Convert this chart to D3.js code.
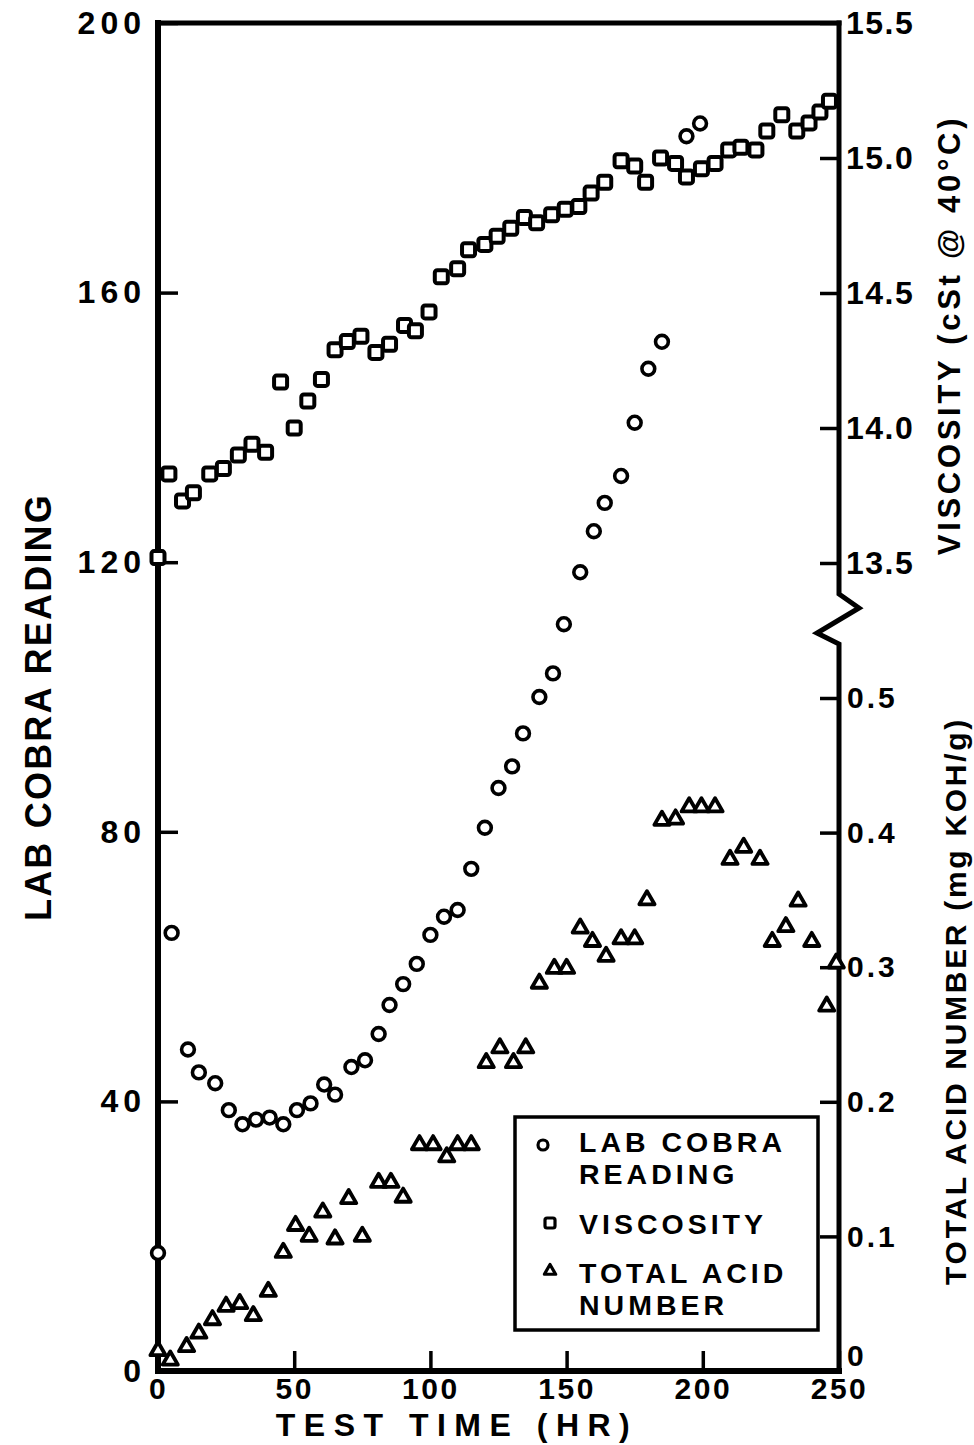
<!DOCTYPE html>
<html><head><meta charset="utf-8">
<script src="https://cdn.jsdelivr.net/npm/d3@7"></script>
<style>
body{margin:0;background:#fff}
svg{display:block}
text{font-family:"Liberation Sans",Arial,Helvetica,sans-serif;fill:#000;font-weight:bold}
</style>
</head><body>
<svg id="c" width="974" height="1445"></svg>
<script>
// ---- data ----
const cobraHours = [0, 5, 11, 15, 21, 26, 31, 36, 41, 46, 51, 56, 61, 65, 71, 76, 81, 85, 90, 95, 100, 105, 110, 115, 120, 125, 130, 134, 140, 145, 149, 155, 160, 164, 170, 175, 180, 185, 194, 199];
const cobraValues = [17.5, 65, 47.7, 44.3, 42.7, 38.7, 36.6, 37.3, 37.6, 36.6, 38.7, 39.7, 42.5, 41.0, 45.1, 46.1, 50.0, 54.3, 57.4, 60.4, 64.7, 67.4, 68.4, 74.5, 80.6, 86.5, 89.7, 94.6, 100, 103.5, 110.8, 118.5, 124.6, 128.8, 132.8, 140.7, 148.7, 152.7, 183.2, 185.1];

const viscHours = [0, 4, 9, 13, 19, 24, 29.5, 34.5, 39.5, 45, 50, 55, 60, 65, 69.5, 74.5, 80, 85, 90.5, 94.5, 99.5, 104, 110, 114, 120, 124.5, 129.5, 134.5, 139, 144.5, 149.5, 154.5, 159, 164, 170, 175, 179, 184.5, 190, 194, 199.5, 204.5, 209.5, 214, 219.5, 223.5, 229, 234.5, 239, 243, 246.5];
const viscValues = [13.52, 13.83, 13.73, 13.76, 13.83, 13.85, 13.90, 13.94, 13.91, 14.17, 14.00, 14.10, 14.18, 14.29, 14.32, 14.34, 14.28, 14.31, 14.38, 14.36, 14.43, 14.56, 14.59, 14.66, 14.68, 14.71, 14.74, 14.78, 14.76, 14.79, 14.81, 14.82, 14.87, 14.91, 14.99, 14.97, 14.91, 15.00, 14.98, 14.93, 14.96, 14.98, 15.03, 15.04, 15.03, 15.10, 15.16, 15.10, 15.13, 15.17, 15.21];

const tanHours = [0, 4.5, 10.5, 15, 20, 25, 30, 35, 40.5, 46, 50.5, 55.5, 60.5, 65, 70, 75, 81, 85.5, 90, 96, 101, 106, 110, 115, 120.5, 125.5, 130.5, 135, 140, 145.5, 150, 155, 159.5, 164.5, 170, 175, 179.5, 185, 190, 195, 199.5, 204.5, 210, 215, 221, 225.5, 230.5, 235, 240, 245.5, 249];
const tanValues = [0.015, 0.008, 0.018, 0.028, 0.038, 0.048, 0.050, 0.041, 0.059, 0.088, 0.108, 0.100, 0.118, 0.098, 0.128, 0.100, 0.140, 0.140, 0.129, 0.168, 0.168, 0.159, 0.168, 0.168, 0.229, 0.240, 0.229, 0.240, 0.288, 0.299, 0.299, 0.329, 0.319, 0.308, 0.321, 0.321, 0.350, 0.409, 0.410, 0.419, 0.419, 0.419, 0.380, 0.389, 0.380, 0.319, 0.330, 0.349, 0.319, 0.271, 0.303];

const xTicks = [0, 50, 100, 150, 200, 250];
const cobraTicks = [0, 40, 80, 120, 160, 200];
const viscTicks = [13.5, 14.0, 14.5, 15.0, 15.5];
const tanTicks = [0, 0.1, 0.2, 0.3, 0.4, 0.5];

const legendLabels = [["LAB COBRA", "READING"], ["VISCOSITY"], ["TOTAL ACID", "NUMBER"]];
const xTitle = "TEST TIME (HR)";
const yLeftTitle = "LAB COBRA READING";
const yViscTitle = "VISCOSITY (cSt @ 40°C)";
const yTanTitle = "TOTAL ACID NUMBER (mg KOH/g)";

// ---- layout ----
const L = 158, R = 839, T = 23, B = 1371;
const svg = d3.select("#c");

const x = d3.scaleLinear().domain([0, 250]).range([L, R]);
const yC = d3.scaleLinear().domain([0, 200]).range([B, T]);
const yV = d3.scaleLinear().domain([13.5, 15.5]).range([T + 540, T]);
const yT = d3.scaleLinear().domain([0, 0.5]).range([B, B - 673]);

function styleAxis(g, size, ls) {
  g.select(".domain").remove();
  g.selectAll(".tick line").attr("stroke", "#000").attr("stroke-width", 3.5);
  g.selectAll(".tick text").attr("font-size", size).attr("letter-spacing", ls)
    .attr("font-family", "'Liberation Sans',Arial,sans-serif").attr("font-weight", "bold").attr("fill", "#000");
}

// left axis
const gL = svg.append("g").attr("transform", `translate(${L},0)`)
  .call(d3.axisLeft(yC).tickValues(cobraTicks).tickSizeInner(-20).tickSizeOuter(0).tickPadding(12).tickFormat(d3.format("d")));
styleAxis(gL, 32, 5);

// bottom axis
const gB = svg.append("g").attr("transform", `translate(0,${B})`)
  .call(d3.axisBottom(x).tickValues(xTicks).tickSizeInner(-20).tickSizeOuter(0).tickPadding(7).tickFormat(d3.format("d")));
styleAxis(gB, 30, 2.5);

// right axis: viscosity
const gV = svg.append("g").attr("transform", `translate(${R},0)`)
  .call(d3.axisRight(yV).tickValues(viscTicks).tickSizeInner(-19).tickSizeOuter(0).tickPadding(7).tickFormat(d3.format(".1f")));
styleAxis(gV, 32, 1.5);

// right axis: TAN
const gT = svg.append("g").attr("transform", `translate(${R},0)`)
  .call(d3.axisRight(yT).tickValues(tanTicks).tickSizeInner(-19).tickSizeOuter(0).tickPadding(8)
    .tickFormat(d => d === 0 ? "0" : d3.format(".1f")(d)));
styleAxis(gT, 30, 3);
gT.selectAll(".tick").filter(d => d === 0).select("text").attr("dy", "-0.2em");

// frame
const frame = svg.append("g").attr("fill", "none").attr("stroke", "#000").attr("stroke-linecap", "square").attr("stroke-linejoin", "miter");
frame.append("path").attr("d", `M${L},${T}H${R}`).attr("stroke-width", 5);
frame.append("path").attr("d", `M${L},${T}V${B}`).attr("stroke-width", 6);
frame.append("path").attr("d", `M${L},${B}H${R}`).attr("stroke-width", 6);
const bk = yV(13.5) + 31;
frame.append("path").attr("stroke-width", 5)
  .attr("d", `M${R},${T}V${bk}L${R + 20},${bk + 14}L${R - 22},${bk + 39}L${R},${bk + 50}V${B}`);

// markers
const ptsV = viscHours.map((h, i) => [h, viscValues[i]]);
const ptsC = cobraHours.map((h, i) => [h, cobraValues[i]]);
const ptsT = tanHours.map((h, i) => [h, tanValues[i]]);

const sq = 13;
svg.append("g").selectAll("rect").data(ptsV).join("rect")
  .attr("x", d => x(d[0]) - sq / 2).attr("y", d => yV(d[1]) - sq / 2)
  .attr("width", sq).attr("height", sq).attr("rx", 2.5)
  .attr("fill", "#fff").attr("stroke", "#000").attr("stroke-width", 4);

svg.append("g").selectAll("circle").data(ptsC).join("circle")
  .attr("cx", d => x(d[0])).attr("cy", d => yC(d[1])).attr("r", 6.4)
  .attr("fill", "#fff").attr("stroke", "#000").attr("stroke-width", 3.6);

const tri = d3.symbol(d3.symbolTriangle, 100);
svg.append("g").selectAll("path").data(ptsT).join("path")
  .attr("d", tri).attr("transform", d => `translate(${x(d[0])},${yT(d[1])})`)
  .attr("fill", "#fff").attr("stroke", "#000").attr("stroke-width", 3.8).attr("stroke-linejoin", "round");

// legend
const lg = svg.append("g");
lg.append("rect").attr("x", 515).attr("y", 1117).attr("width", 303).attr("height", 213)
  .attr("fill", "#fff").attr("stroke", "#000").attr("stroke-width", 3.5);
lg.append("circle").attr("cx", 543).attr("cy", 1145).attr("r", 5).attr("fill", "#fff").attr("stroke", "#000").attr("stroke-width", 3.2);
lg.append("rect").attr("x", 545).attr("y", 1218).attr("width", 10).attr("height", 10).attr("rx", 2)
  .attr("fill", "#fff").attr("stroke", "#000").attr("stroke-width", 3.2);
lg.append("path").attr("d", d3.symbol(d3.symbolTriangle, 55)).attr("transform", "translate(550,1271)")
  .attr("fill", "#fff").attr("stroke", "#000").attr("stroke-width", 3.2).attr("stroke-linejoin", "round");
const legY = [[1152, 1184], [1234], [1283, 1315]];
legendLabels.forEach((lines, i) => {
  lines.forEach((t, j) => {
    lg.append("text").attr("x", 579).attr("y", legY[i][j]).attr("font-size", 28.5).attr("letter-spacing", 4).text(t);
  });
});

// titles
svg.append("text").attr("x", 457).attr("y", 1436).attr("text-anchor", "middle")
  .attr("font-size", 32).attr("letter-spacing", 8.5).text(xTitle);
svg.append("text").attr("transform", "translate(38,707) rotate(-90)").attr("text-anchor", "middle")
  .attr("dominant-baseline", "central").attr("font-size", 36).attr("letter-spacing", 2.2).text(yLeftTitle);
svg.append("text").attr("transform", "translate(949,335) rotate(-90)").attr("text-anchor", "middle")
  .attr("dominant-baseline", "central").attr("font-size", 31).attr("letter-spacing", 3.7).text(yViscTitle);
svg.append("text").attr("transform", "translate(955,1001) rotate(-90)").attr("text-anchor", "middle")
  .attr("dominant-baseline", "central").attr("font-size", 30).attr("letter-spacing", 2.7).text(yTanTitle);
</script>
</body></html>
